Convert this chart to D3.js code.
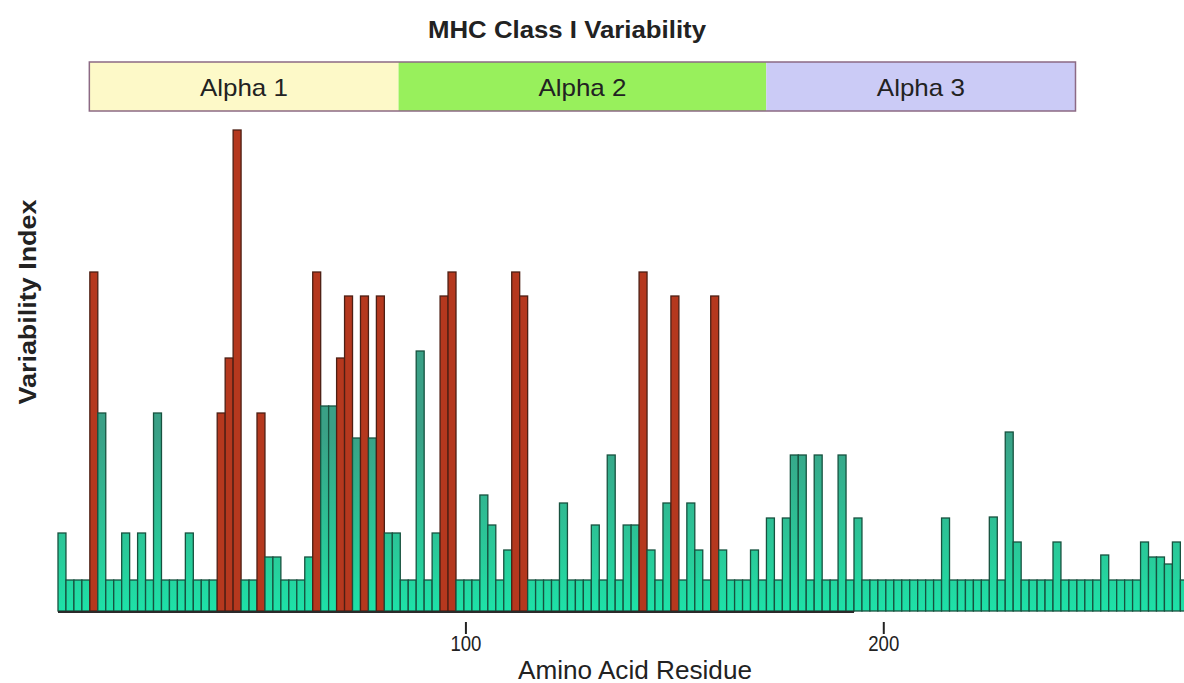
<!DOCTYPE html>
<html lang="en">
<head>
<meta charset="utf-8">
<title>MHC Class I Variability</title>
<script src="https://d3js.org/d3.v7.min.js"></script>
<style>
  body { margin: 0; background: #fff; }
  text { font-family: "Liberation Sans", Arial, sans-serif; fill: #222; }
</style>
</head>
<body>
<script>

  // variability index of each bar, left to right
  var values = [
    7.8, 3.1, 3.1, 3.1, 33.9, 19.8, 3.1, 3.1, 7.8, 3.1,
    7.8, 3.1, 19.8, 3.1, 3.1, 3.1, 7.8, 3.1, 3.1, 3.1,
    19.8, 25.3, 48.1, 3.1, 3.1, 19.8, 5.4, 5.4, 3.1, 3.1,
    3.1, 5.4, 33.9, 20.5, 20.5, 25.3, 31.5, 17.3, 31.5, 17.3,
    31.5, 7.8, 7.8, 3.1, 3.1, 26.0, 3.1, 7.8, 31.5, 33.9,
    3.1, 3.1, 3.1, 11.6, 8.6, 3.1, 6.1, 33.9, 31.5, 3.1,
    3.1, 3.1, 3.1, 10.8, 3.1, 3.1, 3.1, 8.6, 3.1, 15.6,
    3.1, 8.6, 8.6, 33.9, 6.1, 3.1, 10.8, 31.5, 3.1, 10.8,
    6.1, 3.1, 31.5, 6.1, 3.1, 3.1, 3.1, 6.1, 3.1, 9.3,
    3.1, 9.3, 15.6, 15.6, 3.1, 15.6, 3.1, 3.1, 15.6, 3.1,
    9.3, 3.1, 3.1, 3.1, 3.1, 3.1, 3.1, 3.1, 3.1, 3.1,
    3.1, 9.3, 3.1, 3.1, 3.1, 3.1, 3.1, 9.4, 3.1, 17.9,
    6.9, 3.1, 3.1, 3.1, 3.1, 6.9, 3.1, 3.1, 3.1, 3.1,
    3.1, 5.6, 3.1, 3.1, 3.1, 3.1, 6.9, 5.4, 5.4, 4.7,
    6.9, 3.1
  ];

  // bars shown in red
  var redBars = [4, 20, 21, 22, 25, 32, 35, 36, 38, 40, 48, 49, 57, 58, 73, 77, 82];

  var domainNames = ["Alpha 1", "Alpha 2", "Alpha 3"];
  var domainStart = [10, 84, 172];
  var domainEnd = [84, 172, 246];
  var domainFill = ["#fdf9c8", "#98f05c", "#cbcbf6"];

  var residueTicks = [100, 200];
  var residueRange = [2.5, 273];

  var width = 1184, height = 683;
  var left = 58, step = 7.96, base = 611;

  var svg = d3.select("body").append("svg")
              .attr("width", width)
              .attr("height", height);

  var x = d3.scaleBand()
            .domain(d3.range(values.length))
            .range([left, left + step * values.length])
            .padding(0);

  var xRes = d3.scaleLinear()
               .domain(residueRange)
               .range(x.range());

  var y = d3.scaleLinear()
            .domain([0, 50])
            .range([base, base - 500]);

  var defs = svg.append("defs");
  var grad = defs.append("linearGradient")
                 .attr("id", "teal")
                 .attr("gradientUnits", "userSpaceOnUse")
                 .attr("x1", 0).attr("x2", 0)
                 .attr("y1", base).attr("y2", y(18));
  grad.append("stop").attr("offset", "0%").attr("stop-color", "#1de2a8");
  grad.append("stop").attr("offset", "25%").attr("stop-color", "#27cf9c");
  grad.append("stop").attr("offset", "100%").attr("stop-color", "#3aa086");

  // title
  svg.append("text")
     .attr("x", 567)
     .attr("y", 38)
     .attr("text-anchor", "middle")
     .attr("font-size", 24)
     .attr("font-weight", "bold")
     .attr("textLength", 278)
     .attr("lengthAdjust", "spacingAndGlyphs")
     .text("MHC Class I Variability");

  // domain band
  var dom = svg.append("g").attr("class", "domains");
  dom.selectAll("rect")
     .data(domainNames)
     .enter().append("rect")
     .attr("x", function(d, i){ return xRes(domainStart[i]); })
     .attr("width", function(d, i){ return xRes(domainEnd[i]) - xRes(domainStart[i]); })
     .attr("y", 62)
     .attr("height", 49)
     .attr("fill", function(d, i){ return domainFill[i]; })
     .attr("stroke", "none");
  dom.append("rect")
     .attr("x", xRes(domainStart[0]))
     .attr("width", xRes(domainEnd[2]) - xRes(domainStart[0]))
     .attr("y", 62)
     .attr("height", 49)
     .attr("fill", "none")
     .attr("stroke", "#8c6a84")
     .attr("stroke-width", 1.5);
  dom.selectAll("text")
     .data(domainNames)
     .enter().append("text")
     .attr("x", function(d, i){ return (xRes(domainStart[i]) + xRes(domainEnd[i])) / 2; })
     .attr("y", 96)
     .attr("text-anchor", "middle")
     .attr("font-size", 24)
     .attr("textLength", 88)
     .attr("lengthAdjust", "spacingAndGlyphs")
     .text(function(d){ return d; });

  // bars
  svg.append("g")
     .selectAll("rect")
     .data(values)
     .enter().append("rect")
     .attr("x", function(d, i){ return x(i); })
     .attr("width", x.bandwidth())
     .attr("y", function(d){ return y(d); })
     .attr("height", function(d){ return base - y(d); })
     .attr("fill", function(d, i){ return redBars.indexOf(i) >= 0 ? "#b5381e" : "url(#teal)"; })
     .attr("stroke", function(d, i){ return redBars.indexOf(i) >= 0 ? "#4d1f14" : "#17523f"; })
     .attr("stroke-width", 1.3);

  // dark base line under the first part of the plot
  svg.append("line")
     .attr("x1", x.range()[0])
     .attr("x2", xRes(193))
     .attr("y1", base + 1)
     .attr("y2", base + 1)
     .attr("stroke", "#2a2a2a")
     .attr("stroke-width", 2);

  // residue axis
  var axis = svg.append("g")
                .attr("transform", "translate(0," + (base + 11) + ")")
                .call(d3.axisBottom(xRes).tickValues(residueTicks).tickSize(12).tickPadding(1));
  axis.select(".domain").remove();
  axis.selectAll(".tick line").attr("stroke", "#222").attr("stroke-width", 2);
  axis.selectAll(".tick text")
      .attr("font-size", 22)
      .attr("font-family", "'Liberation Sans', Arial, sans-serif")
      .attr("textLength", 31)
      .attr("lengthAdjust", "spacingAndGlyphs")
      .attr("fill", "#222");

  svg.append("text")
     .attr("x", 635)
     .attr("y", 679)
     .attr("text-anchor", "middle")
     .attr("font-size", 25)
     .attr("textLength", 234)
     .attr("lengthAdjust", "spacingAndGlyphs")
     .text("Amino Acid Residue");

  svg.append("text")
     .attr("transform", "translate(36,302) rotate(-90)")
     .attr("text-anchor", "middle")
     .attr("font-size", 23)
     .attr("font-weight", "bold")
     .attr("textLength", 205)
     .attr("lengthAdjust", "spacingAndGlyphs")
     .text("Variability Index");

</script>
</body>
</html>
